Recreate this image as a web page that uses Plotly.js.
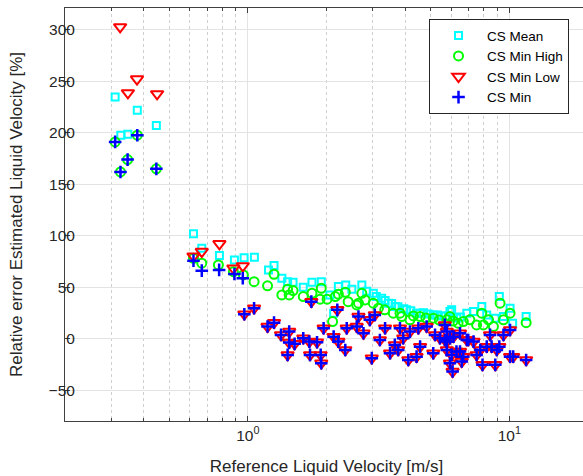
<!DOCTYPE html>
<html>
<head>
<meta charset="utf-8">
<script src="https://cdn.plot.ly/plotly-3.0.1.min.js"></script>
<style>
html,body{margin:0;padding:0;overflow:hidden;background:#fff;}
#chart{width:588px;height:476px;}
</style>
</head>
<body>
<div id="chart"></div>
<script>
// CS Mean (cyan squares)
const meanX = [0.311,0.327,0.348,0.378,0.447,0.62,0.667,0.779,0.889,0.968,1.06,1.2,1.26,1.35,1.42,1.49,1.63,1.76,1.91,2.06,2.13,2.22,2.37,2.5,2.73,2.85,3.02,3.1,3.25,3.35,3.45,3.55,3.66,3.75,3.95,4.05,4.2,4.42,4.56,4.7,4.9,5.12,5.3,5.5,5.7,5.93,6.02,6.3,6.5,6.88,7.3,7.85,8.2,8.84,9.16,9.5,10.07,10.3,11.6];
const meanY = [234.7,197.5,198.4,221.7,206.8,101.7,87.8,80.6,76.4,78.6,79,66.7,70.9,58.6,55.3,54.8,49.9,54.8,55.3,42.4,24.7,50.5,52.1,48,52.1,46,44,41,39.2,37,34.4,34,31.1,31,29,27.9,27,24.7,24.7,25,24,23,23,22,22,26.2,27.9,20,21,24.7,26.2,31.1,23,19.8,40.8,21.4,29.5,15,21.4];

// CS Min High (green circles)
const highX = [0.311,0.326,0.347,0.378,0.447,0.62,0.667,0.772,0.881,0.962,1.057,1.19,1.26,1.35,1.42,1.44,1.49,1.63,1.76,1.89,1.91,2.01,2.11,2.16,2.22,2.36,2.42,2.61,2.65,2.73,2.81,3.02,3.16,3.34,3.6,3.82,3.88,4.17,4.3,4.56,4.8,5.12,5.4,5.77,5.93,6.1,6.37,6.67,7.07,7.5,7.85,7.96,8.33,8.7,9.22,9.5,10.07,11.6];
const highY = [191,161.8,173.8,197.5,164.8,78,73.2,71.5,65,61.8,55.3,51.2,62.5,42.4,48,42.4,46.6,40.8,44.1,38.3,48.9,38.3,16.5,40.8,43.1,45,35.9,32.7,34.4,44,37.6,34.4,29.5,27.9,24.7,24.7,21.4,18.2,22,21.4,20,19.8,18,18.2,21.4,17,15,16.5,18.2,13.3,24.7,13.3,18.2,11.7,34.4,18.2,24.7,15.5];

// CS Min Low (red triangles)
const lowX = [0.325,0.348,0.377,0.45,0.62,0.667,0.779,0.881,0.957,0.97,1.057,1.19,1.26,1.34,1.42,1.44,1.44,1.51,1.63,1.72,1.73,1.75,1.84,1.9,1.91,1.95,2.13,2.2,2.22,2.36,2.39,2.61,2.65,2.77,2.93,2.98,3.06,3.2,3.35,3.5,3.65,3.76,3.82,3.93,4.11,4.17,4.42,4.49,4.56,4.83,5.12,5.2,5.43,5.67,5.67,5.77,5.77,5.77,5.93,5.93,6.02,6.07,6.12,6.28,6.48,6.48,6.58,6.67,6.88,6.97,7.3,7.5,7.74,7.9,8.2,8.44,8.56,8.84,8.96,9.16,9.5,10.07,10.07,10.35,11.6];
const lowY = [302.6,238.5,252,237.6,80,84.5,92,68.3,70.6,23.7,29.5,11.7,15.5,3.6,-15.8,6.8,-3.9,-5.1,0.4,-2.9,-15.8,35.9,-3.5,-15.8,-23.9,10.1,1.9,27.9,-2.9,-11,10.1,11.7,21.4,5.2,18.2,-19,23,-1.3,10.1,-14.2,-6.1,-11,10.1,0.4,-20.7,6.8,-17.5,10.1,-7.8,11.7,-14.2,3.6,0.4,13.3,-1.3,6.8,-2.9,-11,0.4,-23.9,-15.8,-32,1.9,-12.6,5.2,-12.6,-22.3,-17.5,-1.3,-1.3,-2.9,-15.8,-11,-25.5,-7.8,3.6,-7.8,-25.5,-11,-7.8,3.6,8.4,-17.5,-17.5,-20.7];

// CS Min (blue crosses): own values at low velocity, then equal to the CS Min Low points
const minOwnX = [0.311,0.326,0.347,0.378,0.447,0.62,0.667,0.777,0.889,0.957];
const minOwnY = [191,161.8,173.8,197.5,164.8,75.7,66,66.7,62.8,58.6];
const firstLowIdx = 9; // CS Min follows CS Min Low from this point on
const minX = minOwnX.concat(lowX.slice(firstLowIdx));
const minY = minOwnY.concat(lowY.slice(firstLowIdx));

const xTickVals = [1, 10];
const xTickText = ['10<sup>0</sup>', '10<sup>1</sup>'];
const xMinorVals = [0.2,0.3,0.4,0.5,0.6,0.7,0.8,0.9,2,3,4,5,6,7,8,9];
const yTickVals = [-50,0,50,100,150,200,250,300];

const traces = [
  {x: meanX, y: meanY, name: 'CS Mean', type: 'scatter', mode: 'markers',
   marker: {symbol: 'square-open', size: 7, color: '#00FFFF', line: {width: 2, color: '#00FFFF'}}},
  {x: highX, y: highY, name: 'CS Min High', type: 'scatter', mode: 'markers',
   marker: {symbol: 'circle-open', size: 9, color: '#00FF00', line: {width: 2, color: '#00FF00'}}},
  {x: lowX, y: lowY, name: 'CS Min Low', type: 'scatter', mode: 'markers',
   marker: {symbol: 'triangle-down-open', size: 11, color: '#FF0000', line: {width: 2, color: '#FF0000'}}},
  {x: minX, y: minY, name: 'CS Min', type: 'scatter', mode: 'markers',
   marker: {symbol: 'cross-thin-open', size: 9, color: '#0000FF', line: {width: 2.5, color: '#0000FF'}}}
];

const layout = {
  width: 588, height: 476,
  margin: {l: 65, r: 0, t: 8, b: 55},
  paper_bgcolor: '#ffffff', plot_bgcolor: '#ffffff',
  font: {family: 'Liberation Sans, Arial, sans-serif', color: '#262626', size: 14},
  showlegend: true,
  legend: {x: 0.696, y: 0.973, xanchor: 'left', yanchor: 'top',
           bgcolor: '#ffffff', bordercolor: '#262626', borderwidth: 1,
           font: {size: 13.5, color: '#000000'}, itemwidth: 47, tracegroupgap: 0},
  xaxis: {
    type: 'log', range: [Math.log10(0.2), Math.log10(20)],
    tickmode: 'array', tickvals: xTickVals, ticktext: xTickText,
    ticks: 'inside', ticklen: 5, tickcolor: '#404040',
    showline: true, linecolor: '#404040', linewidth: 1, mirror: 'allticks',
    showgrid: true, gridcolor: '#e3e3e3', gridwidth: 1, zeroline: false,
    tickfont: {size: 15.5, color: '#262626'},
    minor: {tickmode: 'array', tickvals: xMinorVals, ticks: 'inside', ticklen: 3, tickcolor: '#404040',
            showgrid: true, gridcolor: '#d0d0d0', griddash: 'dot', gridwidth: 1},
    title: {text: 'Reference Liquid Velocity [m/s]', font: {size: 17, color: '#262626'}, standoff: 17}
  },
  yaxis: {
    range: [-80, 321],
    tickmode: 'array', tickvals: yTickVals,
    ticks: 'inside', ticklen: 5, tickcolor: '#404040',
    showline: true, linecolor: '#404040', linewidth: 1, mirror: 'allticks',
    showgrid: true, gridcolor: '#e3e3e3', gridwidth: 1, zeroline: false,
    tickfont: {size: 15.5, color: '#262626'},
    ticklabelstandoff: -14,
    title: {text: 'Relative error Estimated Liquid Velocity [%]', font: {size: 17, color: '#262626'}, standoff: 21}
  }
};

Plotly.newPlot('chart', traces, layout, {displayModeBar: false, staticPlot: true});
</script>
</body>
</html>
